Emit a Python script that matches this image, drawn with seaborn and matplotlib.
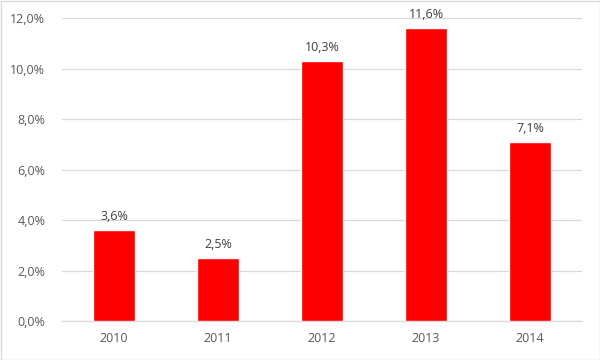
import matplotlib
matplotlib.use("Agg")
import matplotlib.pyplot as plt
import seaborn as sns
import pandas as pd
from matplotlib.ticker import FuncFormatter

years = ["2010", "2011", "2012", "2013", "2014"]
values = [3.6, 2.5, 10.3, 11.6, 7.1]
labels = ["3,6%", "2,5%", "10,3%", "11,6%", "7,1%"]

df = pd.DataFrame({"year": years, "value": values})

sns.set_theme(style="white")
plt.rcParams["font.family"] = ["Open Sans", "DejaVu Sans"]

fig = plt.figure(figsize=(6, 3.6), dpi=100)
ax = fig.add_axes([62/600, 1-321/360, 520/600, 303/360])
sns.barplot(data=df, x="year", y="value", color="#FF0000", saturation=1,
            width=0.40, ax=ax, zorder=3)
ax.set_ylim(0, 12)
ax.set_yticks([0, 2, 4, 6, 8, 10, 12])
ax.yaxis.set_major_formatter(FuncFormatter(lambda v, p: f"{v:.1f}".replace(".", ",") + "%"))
ax.grid(axis="y", color="#D9D9D9", linewidth=0.9, zorder=0)
ax.set_axisbelow(True)
for s in ["top", "right", "left"]:
    ax.spines[s].set_visible(False)
ax.spines["bottom"].set_color("#D9D9D9")
ax.spines["bottom"].set_linewidth(0.9)
ax.set_xlabel("")
ax.set_ylabel("")
ax.tick_params(axis="both", length=0, labelsize=9, colors="#595959", pad=8)
ax.tick_params(axis="y", pad=12)
for c in ax.containers:
    ax.bar_label(c, labels=labels, padding=5, fontsize=9, color="#404040")

fig.patches.append(plt.Rectangle((0.5/600, 0.5/360), 599/600, 359/360, transform=fig.transFigure,
                                 fill=False, edgecolor="#D9D9D9", linewidth=1))
fig.savefig("out.png", dpi=100, facecolor="white")
